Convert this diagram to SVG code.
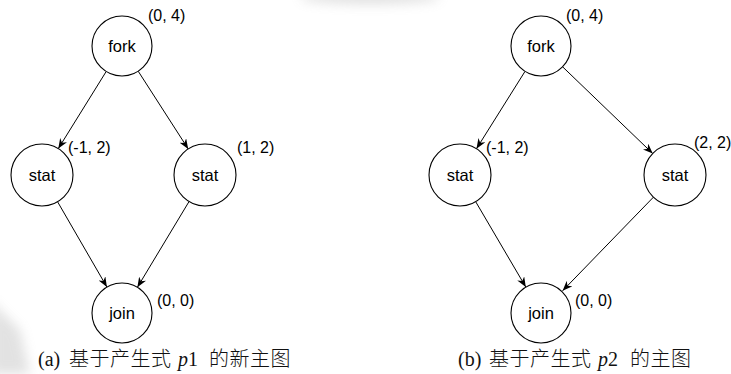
<svg xmlns="http://www.w3.org/2000/svg" width="731" height="374" viewBox="0 0 731 374">
  <style>
    .node circle { fill: #ffffff; stroke: #000000; stroke-width: 1.1; }
    .name { font-family: "Liberation Sans", Arial, sans-serif; font-size: 16.5px; fill: #000; text-anchor: middle; }
    .coord { font-family: "Liberation Sans", Arial, sans-serif; font-size: 16px; fill: #000; }
    .edges line { stroke: #000; stroke-width: 1; marker-end: url(#arrow); }
    .caption { font-family: "Liberation Serif", "Times New Roman", "Noto Sans CJK SC", serif; font-size: 20px; fill: #111; }
    .cjk { font-family: "Noto Sans CJK SC", "Liberation Serif", serif; font-weight: 300; font-size: 20px; letter-spacing: 0.5px; }
  </style>
  <defs>
    <marker id="arrow" viewBox="0 0 10 8" refX="10" refY="4" markerWidth="10" markerHeight="8" markerUnits="userSpaceOnUse" orient="auto">
      <path d="M0,0 L10,4 L0,8 L3,4 Z" fill="#000"/>
    </marker>
    <filter id="soft" x="-50%" y="-50%" width="200%" height="200%">
      <feGaussianBlur stdDeviation="6"/>
    </filter>
  </defs>

  <rect width="731" height="374" fill="#ffffff"/>

  <!-- faint page shading at the top edge and lower-left corner -->
  <g filter="url(#soft)" opacity="0.3">
    <ellipse cx="370" cy="-3" rx="70" ry="7" fill="#9a9a9a"/>
    <path d="M-10,300 L20,330 L30,374 L-10,374 Z" fill="#a0a0a0"/>
  </g>

  <!-- connectors -->
  <g id="edges" class="edges">
    <line x1="106.2" y1="71.5" x2="58.3" y2="148.6"/>
    <line x1="138.2" y1="71.2" x2="188.2" y2="148.9"/>
    <line x1="57.6" y1="201.8" x2="106.9" y2="287"/>
    <line x1="189" y1="201.6" x2="137.4" y2="287.3"/>

    <line x1="525" y1="71.4" x2="476.5" y2="148.7"/>
    <line x1="562.6" y1="66.8" x2="652.7" y2="153.5"/>
    <line x1="475.7" y1="201.7" x2="525.8" y2="287.1"/>
    <line x1="653.4" y1="197.2" x2="562.6" y2="290.8"/>
  </g>

  <!-- graph (a) -->
  <g id="a-fork" class="node">
    <circle cx="122" cy="46" r="30"/>
    <text class="name" x="122" y="52">fork</text>
    <text class="coord" x="148" y="21">(0, 4)</text>
  </g>
  <g id="a-stat-left" class="node">
    <circle cx="42" cy="175" r="31"/>
    <text class="name" x="42" y="181">stat</text>
    <text class="coord" x="68" y="153">(-1, 2)</text>
  </g>
  <g id="a-stat-right" class="node">
    <circle cx="205" cy="175" r="31"/>
    <text class="name" x="205" y="181">stat</text>
    <text class="coord" x="237" y="153">(1, 2)</text>
  </g>
  <g id="a-join" class="node">
    <circle cx="122" cy="313" r="30"/>
    <text class="name" x="122" y="319">join</text>
    <text class="coord" x="157" y="306">(0, 0)</text>
  </g>

  <!-- graph (b) -->
  <g id="b-fork" class="node">
    <circle cx="541" cy="46" r="30"/>
    <text class="name" x="541" y="52">fork</text>
    <text class="coord" x="566" y="21">(0, 4)</text>
  </g>
  <g id="b-stat-left" class="node">
    <circle cx="460" cy="175" r="31"/>
    <text class="name" x="460" y="181">stat</text>
    <text class="coord" x="486" y="153">(-1, 2)</text>
  </g>
  <g id="b-stat-right" class="node">
    <circle cx="675" cy="175" r="31"/>
    <text class="name" x="675" y="181">stat</text>
    <text class="coord" x="694" y="148">(2, 2)</text>
  </g>
  <g id="b-join" class="node">
    <circle cx="541" cy="313" r="30"/>
    <text class="name" x="541" y="319">join</text>
    <text class="coord" x="575" y="306">(0, 0)</text>
  </g>

  <!-- captions -->
  <text class="caption" y="366"><tspan x="38">(a)</tspan><tspan class="cjk" x="69">基于产生式</tspan><tspan x="178" font-style="italic">p</tspan><tspan>1</tspan><tspan class="cjk" x="209">的新主图</tspan></text>
  <text class="caption" y="366"><tspan x="458">(b)</tspan><tspan class="cjk" x="489">基于产生式</tspan><tspan x="598" font-style="italic">p</tspan><tspan>2</tspan><tspan class="cjk" x="630">的主图</tspan></text>
</svg>
